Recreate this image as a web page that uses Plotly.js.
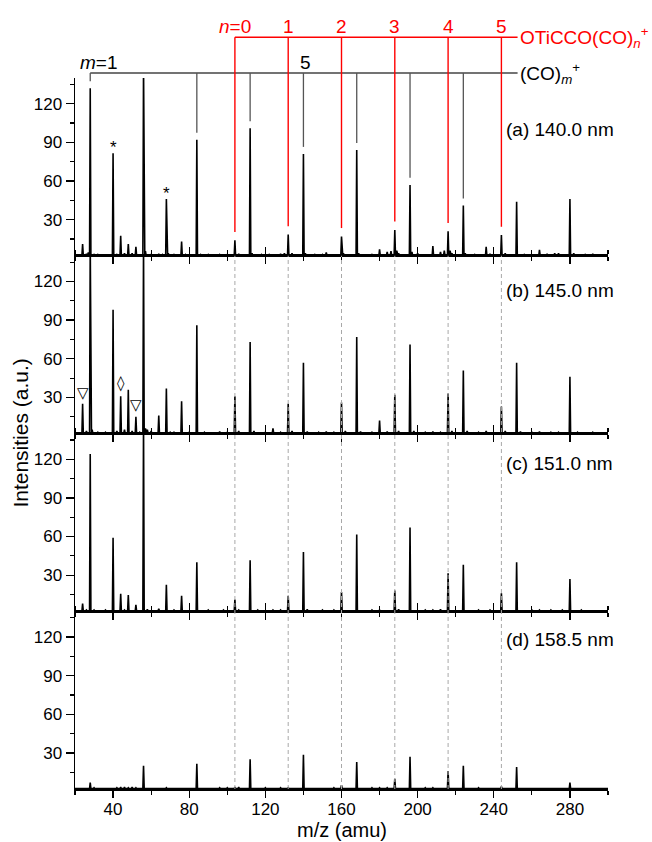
<!DOCTYPE html>
<html><head><meta charset="utf-8">
<script src="https://cdn.plot.ly/plotly-3.0.1.min.js"></script>
<style>html,body{margin:0;padding:0;background:#fff}#chart{width:652px;height:842px}</style>
</head><body><div id="chart"></div>
<script>
// ---------------- data ----------------
const panelLabels = ['(a) 140.0 nm', '(b) 145.0 nm', '(c) 151.0 nm', '(d) 158.5 nm'];

// (a) 140.0 nm
const mzA  = [24, 26, 27, 28, 30, 32, 40, 42, 44, 46, 48, 50, 52, 56, 57, 60, 64, 66, 68, 69, 72, 76, 78, 84, 86, 90, 96, 100, 104, 106, 112, 113, 118, 122, 128, 130, 132, 134, 140, 141, 146, 150, 152, 160, 161, 168, 169, 176, 180, 184, 186, 188, 189, 190, 196, 197, 200, 208, 212, 214, 216, 217, 218, 224, 225, 230, 236, 238, 244, 246, 252, 256, 264, 268, 272, 274, 280, 282, 288, 292];
const intA = [11, 3.5, 4.5, 132, 3, 3, 81.5, 3, 17.5, 4, 11, 4, 9, 150, 5.5, 3, 3.5, 3, 46, 4, 3, 13, 3, 92, 3, 3, 3, 3, 14, 3.5, 101, 4, 3, 3, 3.5, 4, 18.5, 4, 81, 4, 3, 3, 4.5, 17, 4, 84, 4, 3, 7, 5, 5.5, 22, 6, 4, 57, 5, 4, 9.5, 5, 6, 21, 6, 4, 41, 4, 3, 9, 3.5, 18, 4, 44, 3, 6.5, 3.5, 4, 4, 46, 4, 3, 3.5];

// (b) 145.0 nm
const mzB  = [24, 26, 28, 29, 32, 36, 40, 42, 44, 46, 48, 50, 52, 54, 56, 57, 58, 60, 64, 68, 70, 72, 76, 80, 84, 88, 96, 100, 104, 106, 112, 114, 120, 124, 128, 132, 134, 140, 142, 148, 152, 156, 160, 162, 168, 170, 176, 180, 184, 188, 190, 196, 198, 204, 208, 212, 216, 218, 224, 226, 232, 236, 244, 246, 252, 254, 260, 264, 270, 274, 280, 284, 292];
const intB = [25, 4, 150, 5, 3, 3, 98, 4, 31, 5, 36, 4, 15, 3, 150, 6, 5, 4, 16, 37, 3, 3, 27, 3, 86, 3, 3.5, 3, 31, 4, 73, 4, 3, 6, 3, 25, 4, 57, 3.5, 3, 3.5, 3, 26, 4, 77, 3.5, 3, 12, 3.5, 32, 4, 71, 4, 3, 3.5, 3, 33, 4, 51, 4, 3, 4, 23, 4, 57, 3.5, 3, 3.5, 3, 3, 46, 3, 3];

// (c) 151.0 nm
const mzC  = [24, 26, 28, 30, 36, 40, 44, 46, 48, 52, 56, 58, 64, 68, 72, 76, 84, 90, 98, 104, 106, 112, 116, 124, 128, 132, 140, 142, 150, 156, 160, 168, 176, 180, 188, 190, 196, 204, 208, 212, 216, 224, 232, 238, 244, 252, 260, 264, 270, 276, 280, 286];
const intC = [8, 3, 124, 3, 3, 59, 15.5, 3, 14.5, 7, 150, 3.5, 4, 22.5, 3, 14, 40, 3, 3, 11, 3, 41.5, 3, 3, 3, 14, 48, 3.5, 3, 3, 17, 61.5, 3, 3, 18, 3.5, 67, 3, 3, 3.5, 31.5, 38, 3, 3, 16, 40, 3, 3, 3, 3, 27, 3];

// (d) 158.5 nm
const mzD  = [28, 30, 42, 44, 46, 48, 50, 52, 56, 68, 84, 96, 100, 104, 106, 112, 120, 128, 132, 140, 156, 160, 168, 176, 180, 184, 188, 196, 204, 208, 216, 224, 232, 244, 252, 280];
const intD = [7, 3, 3, 3.5, 3.5, 3, 3.5, 3, 20, 3, 21.5, 3, 3, 3.5, 3.5, 25, 3, 3, 3, 28.5, 3, 5, 23, 3, 3, 3, 10, 27, 3, 3, 16, 20, 3, 4, 19, 7];

// peak series marked above panel (a)
const coMz   = [28, 56, 84, 112, 140, 168, 196, 224];   // (CO)m+, m = 1..8
const otiMz  = [104, 132, 160, 188, 216, 244];          // OTiCCO(CO)n+, n = 0..5
const otiLabels = ['<i>n</i>=0', '1', '2', '3', '4', '5'];
const coLabels  = [{mz: 28, text: '<i>m</i>=1'}, {mz: 140, text: '5'}];

// ---------------- build ----------------
const FONT = 'Liberation Sans, Arial, sans-serif';
const BASE = 2.4;
const YR = [2, 140];
const domains = [[0.75, 1], [0.5, 0.75], [0.25, 0.5], [0, 0.25]];
const spectra = [[mzA, intA], [mzB, intB], [mzC, intC], [mzD, intD]];

function stick(mz, inten) {
  const xs = [20], ys = [BASE];
  mz.forEach((m, i) => { xs.push(m - 0.35, m, m + 0.35); ys.push(BASE, inten[i], BASE); });
  xs.push(300); ys.push(BASE);
  return {xs, ys};
}

const traces = spectra.map((s, i) => {
  const st = stick(s[0], s[1]);
  return {type: 'scatter', mode: 'lines', x: st.xs, y: st.ys,
    xaxis: i ? 'x' + (i + 1) : 'x', yaxis: i ? 'y' + (i + 1) : 'y',
    line: {color: '#000', width: 1.6}, hoverinfo: 'skip'};
});

const layout = {
  width: 652, height: 842,
  margin: {l: 75, r: 44, t: 77.5, b: 52.5, pad: 0},
  paper_bgcolor: '#fff', plot_bgcolor: 'rgba(0,0,0,0)',
  showlegend: false,
  font: {family: FONT, size: 17, color: '#000'},
  shapes: [], annotations: []
};

for (let i = 0; i < 4; i++) {
  const xn = i ? 'xaxis' + (i + 1) : 'xaxis';
  const yn = i ? 'yaxis' + (i + 1) : 'yaxis';
  const xa = {
    anchor: i ? 'y' + (i + 1) : 'y', domain: [0, 1], range: [20, 300],
    tick0: 0, dtick: 40, ticks: 'outside', ticklen: 7, tickwidth: 1.3, tickcolor: '#000',
    showline: true, linecolor: '#000', linewidth: 1.5, showgrid: false, zeroline: false,
    mirror: i > 0 ? 'ticks' : false, showticklabels: i === 3,
    tickfont: {family: FONT, size: 17, color: '#000'},
    minor: {tick0: 0, dtick: 20, ticks: 'outside', ticklen: 4, tickwidth: 1.2, tickcolor: '#000', showgrid: false}
  };
  if (i) xa.matches = 'x';
  if (i === 3) xa.ticklabelstandoff = -3;
  layout[xn] = xa;
  layout[yn] = {
    anchor: i ? 'x' + (i + 1) : 'x', domain: domains[i], range: YR,
    tickmode: 'array', tickvals: [30, 60, 90, 120], ticks: 'outside', ticklen: 8, tickwidth: 1.3, tickcolor: '#000',
    showline: true, linecolor: '#000', linewidth: 1.5, showgrid: false, zeroline: false,
    tickfont: {family: FONT, size: 17, color: '#000'},
    minor: {tickmode: 'array', tickvals: [15, 45, 75, 105, 135], ticks: 'outside', ticklen: 4, tickwidth: 1.2, tickcolor: '#000', showgrid: false}
  };
  layout.annotations.push({
    text: panelLabels[i], xref: 'x', yref: i ? 'y' + (i + 1) : 'y',
    x: 245.5, y: [100, 113.3, 116.9, 117.9][i], xanchor: 'left', yanchor: 'middle',
    showarrow: false, font: {family: FONT, size: 19, color: '#000'}
  });
}

// helper: panel (a) value -> paper y
const pA = v => domains[0][0] + (v - YR[0]) / (YR[1] - YR[0]) * (domains[0][1] - domains[0][0]);
const peakA = m => intA[mzA.indexOf(m)];
const RED_Y = 1.0573, BLACK_Y = 1.0070, RED_LBL = 1.0723, BLACK_LBL = 1.0211, END = 252.5;

// dashed guide lines through panels b-d
otiMz.forEach(m => layout.shapes.push({type: 'line', xref: 'x', yref: 'paper', x0: m, x1: m, y0: 0, y1: domains[0][0],
  line: {color: '#a8a8a8', width: 1, dash: '4px,3px'}}));

// black (CO)m+ bracket
layout.shapes.push({type: 'line', xref: 'x', yref: 'paper', x0: coMz[0], x1: END, y0: BLACK_Y, y1: BLACK_Y, line: {color: '#444', width: 1.3}});
coMz.forEach(m => {
  const bottom = pA(peakA(m) + 5.5);
  if (bottom < BLACK_Y) layout.shapes.push({type: 'line', xref: 'x', yref: 'paper', x0: m, x1: m, y0: bottom, y1: BLACK_Y, line: {color: '#555', width: 1.3}});
});
// red OTiCCO(CO)n+ bracket
layout.shapes.push({type: 'line', xref: 'x', yref: 'paper', x0: otiMz[0], x1: END, y0: RED_Y, y1: RED_Y, line: {color: '#ff0000', width: 1.4}});
otiMz.forEach(m => layout.shapes.push({type: 'line', xref: 'x', yref: 'paper', x0: m, x1: m, y0: pA(peakA(m) + 6.5), y1: RED_Y,
  line: {color: '#ff0000', width: 1.4}}));

// bracket labels
otiMz.forEach((m, i) => layout.annotations.push({text: otiLabels[i], xref: 'x', yref: 'paper', x: m, y: RED_LBL,
  xanchor: 'center', yanchor: 'middle', showarrow: false, font: {family: FONT, size: 19, color: '#ff0000'}}));
layout.annotations.push({text: 'OTiCCO(CO)<sub><i>n</i></sub><sup>+</sup>', xref: 'x', yref: 'paper', x: END, y: RED_Y,
  xanchor: 'left', yanchor: 'middle', showarrow: false, font: {family: FONT, size: 19, color: '#ff0000'}});
coLabels.forEach(c => layout.annotations.push({text: c.text, xref: 'x', yref: 'paper', x: c.mz, y: BLACK_LBL,
  xanchor: 'center', xshift: c.mz === 28 ? 9 : 2, yanchor: 'middle', showarrow: false, font: {family: FONT, size: 19, color: '#000'}}));
layout.annotations.push({text: '(CO)<sub><i>m</i></sub><sup>+</sup>', xref: 'x', yref: 'paper', x: END, y: BLACK_Y,
  xanchor: 'left', yanchor: 'middle', showarrow: false, font: {family: FONT, size: 19, color: '#000'}});

// peak markers
[[40, 86], [68, 50]].forEach(p => layout.annotations.push({text: '*', xref: 'x', yref: 'y', x: p[0], y: p[1],
  showarrow: false, font: {family: FONT, size: 17, color: '#000'}}));
[[24, 33.6, '▽'], [44, 40.9, '◊'], [52, 24.1, '▽']].forEach(p => layout.annotations.push({text: p[2], xref: 'x', yref: 'y2', x: p[0], y: p[1],
  showarrow: false, font: {family: 'DejaVu Sans', size: 15, color: '#000'}}));

// axis titles
layout.annotations.push({text: 'm/z (amu)', xref: 'paper', yref: 'paper', x: 0.5, y: -0.0583,
  xanchor: 'center', yanchor: 'middle', showarrow: false, font: {family: FONT, size: 20, color: '#000'}});
layout.annotations.push({text: 'Intensities (a.u.)', xref: 'paper', yref: 'paper', x: -0.103, y: 0.5, textangle: -90,
  xanchor: 'center', yanchor: 'middle', showarrow: false, font: {family: FONT, size: 21, color: '#000'}});

Plotly.newPlot('chart', traces, layout, {staticPlot: true, displayModeBar: false});
</script></body></html>
